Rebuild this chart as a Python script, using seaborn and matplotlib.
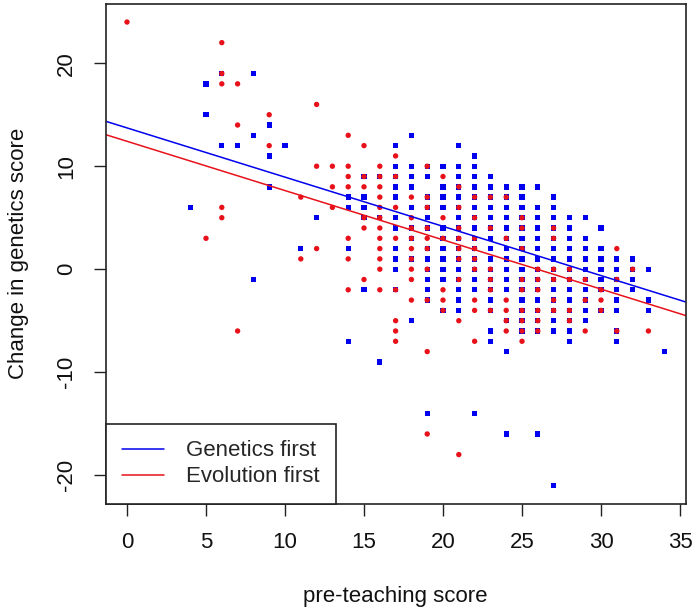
import numpy as np
import pandas as pd
import matplotlib
matplotlib.use('Agg')
import matplotlib.pyplot as plt
import seaborn as sns

# scores (x) and the changes seen at each score
gen_scores = [4, 5, 6, 7, 8, 9, 10, 11, 12, 14, 15, 16, 17, 18, 19, 20, 21, 22,
              23, 24, 25, 26, 27, 28, 29, 30, 31, 32, 33, 34]
gen_changes = [
    [6], [18, 15], [19, 12], [12], [19, 13, -1], [14, 11, 8], [12], [2], [5],
    [7, 6, 2, -7],
    [9, 7, 6, 5, -2],
    [9, 5, -9],
    [12, 10, 9, 8, 7, 5, 4, 2, 1, 0, -2],
    [13, 10, 9, 8, 6, 4, 3, 1, -5],
    [10, 9, 7, 6, 5, 4, 2, 1, 0, -1, -2, -3, -14],
    [10, 8, 7, 6, 4, 3, 2, 1, 0, -1, -4],
    [12, 10, 9, 8, 7, 6, 5, 4, 3, 2, 1, 0, -1, -2, -3, -4],
    [11, 10, 9, 8, 7, 6, 5, 4, 3, 2, 1, 0, -1, -2, -14],
    [9, 8, 7, 6, 5, 4, 3, 2, 1, 0, -1, -2, -3, -4, -6, -7],
    [8, 7, 6, 5, 4, 3, 2, 1, 0, -1, -2, -5, -8, -16],
    [8, 7, 6, 5, 4, 3, 2, 1, 0, -1, -2, -3, -4, -5, -6],
    [8, 6, 5, 4, 3, 2, 1, 0, -1, -2, -3, -4, -5, -6, -16],
    [7, 6, 5, 4, 3, 2, 1, 0, -1, -2, -3, -4, -5, -6, -21],
    [5, 4, 3, 2, 1, 0, -1, -2, -3, -4, -5, -6, -7],
    [5, 3, 2, 1, 0, -1, -2, -3, -4, -5],
    [4, 2, 1, 0, -1, -2, -4],
    [1, 0, -1, -2, -3, -4, -6, -7],
    [1, 0, -1, -2],
    [0, -3, -4],
    [-8],
]

evo_scores = [0, 5, 6, 7, 9, 11, 12, 13, 14, 15, 16, 17, 18, 19, 20, 21, 22, 23,
              24, 25, 26, 27, 28, 29, 30, 31, 32, 33]
evo_changes = [
    [24], [3], [22, 19, 18, 6, 5], [18, 14, -6], [15, 12], [7, 1], [16, 10, 2],
    [10, 8, 6],
    [13, 10, 9, 8, 3, 1, -2],
    [12, 9, 8, 5, 4, -1],
    [10, 9, 8, 7, 6, 5, 4, 3, 2, 1, 0, -2],
    [11, 9, 6, 3, -2, -5, -6, -7],
    [7, 5, 4, 3, 2, 1, 0, -1, -3],
    [10, 7, 6, 4, 3, 2, 0, -3, -8, -16],
    [9, 5, 3, -2, -3, -4],
    [8, 6, 4, 3, 2, 1, -1, -5, -18],
    [7, 5, 3, 2, 1, 0, -3, -4, -7],
    [7, 4, 0, -1, -2, -4],
    [7, 3, -3, -4, -5, -6],
    [5, 4, 2, -1, -2, -4, -5, -6, -7],
    [0, -1, -2, -4, -5, -6],
    [4, 3, 0, -1, -3, -4],
    [0, -1, -4, -5],
    [-1, -3, -6],
    [-2, -3, -4],
    [2, -1, -6],
    [0],
    [-6],
]

# fitted lines (intercept, slope) as drawn in the chart
gen_fit = (13.72, -0.478)
evo_fit = (12.42, -0.4785)

group_names = ['Genetics first', 'Evolution first']
col_blue = '#0000EE'
col_red = '#E8111A'


def to_frame(scores, changes, name):
    xs = [s for s, ch in zip(scores, changes) for _ in ch]
    ys = [c for ch in changes for c in ch]
    return pd.DataFrame({'score': xs, 'change': ys, 'group': name})


df = pd.concat([to_frame(gen_scores, gen_changes, group_names[0]),
                to_frame(evo_scores, evo_changes, group_names[1])],
               ignore_index=True)

sns.set_style('ticks')
plt.rcParams['font.family'] = ['Liberation Sans', 'DejaVu Sans']

fig = plt.figure(figsize=(6.96, 6.15), dpi=100)
ax = fig.add_axes([0.1516, 0.1805, 0.8336, 0.8138])

sns.scatterplot(data=df, x='score', y='change', hue='group', style='group',
                palette={group_names[0]: col_blue, group_names[1]: col_red},
                markers={group_names[0]: 's', group_names[1]: 'o'},
                s=15, linewidth=0, legend=False, ax=ax)

l1 = ax.axline((0, gen_fit[0]), slope=gen_fit[1], color=col_blue, lw=1.1,
               label=group_names[0])
l2 = ax.axline((0, evo_fit[0]), slope=evo_fit[1], color=col_red, lw=1.1,
               label=group_names[1])

ax.set_xlim(-1.36, 35.36)
ax.set_ylim(-22.8, 25.8)
ax.set_xticks(np.arange(0, 36, 5))
ax.set_yticks([-20, -10, 0, 10, 20])
ax.set_yticklabels(['-20', '-10', '0', '10', '20'], rotation=90, va='center')
ax.tick_params(axis='both', length=8.5, width=1, labelsize=16, pad=12,
               color='#222222', labelcolor='#111111')
for sp in ax.spines.values():
    sp.set_linewidth(1.2)
    sp.set_color('#222222')

ax.set_xlabel('pre-teaching score', fontsize=16, color='#111111')
ax.set_ylabel('Change in genetics score', fontsize=16, color='#111111')
ax.xaxis.set_label_coords(0.5, -0.163)
ax.yaxis.set_label_coords(-0.132, 0.5)

leg = ax.legend(handles=[l1, l2], loc='lower left', borderaxespad=0,
                fontsize=16, fancybox=False, framealpha=1, edgecolor='#222222',
                handlelength=1.9, handletextpad=0.95, borderpad=0.75,
                labelspacing=0.22)
leg.get_frame().set_linewidth(1.2)

fig.savefig('out.png', dpi=100)
